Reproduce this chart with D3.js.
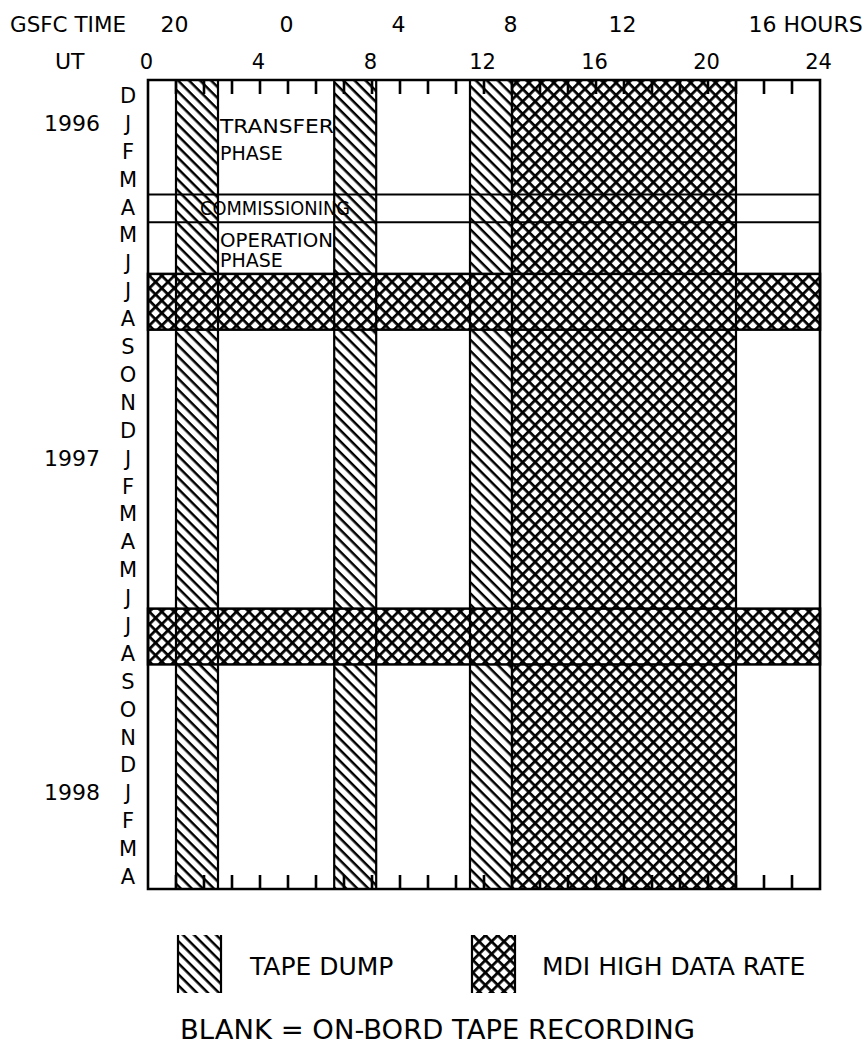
<!DOCTYPE html>
<html>
<head>
<meta charset="utf-8">
<script src="https://cdn.jsdelivr.net/npm/d3@7"></script>
<style>
  body { margin: 0; background: #fff; }
  text { font-family: "DejaVu Sans", sans-serif; fill: #000; }
</style>
</head>
<body>
<svg id="chart" width="864" height="1053"></svg>
<script>
// month rows, Dec 1995 .. Apr 1998
const months = ['D', 'J', 'F', 'M', 'A', 'M', 'J', 'J', 'A', 'S', 'O', 'N',
  'D', 'J', 'F', 'M', 'A', 'M', 'J', 'J', 'A', 'S', 'O', 'N', 'D', 'J', 'F', 'M', 'A'];
const yearLabels = ['1996', '1997', '1998'];
const yearRows = [1, 13, 25];

const utTicks = [0, 4, 8, 12, 16, 20, 24];
const gsfcHours = [20, 0, 4, 8, 12, 16];
const gsfcOffset = 5; // UT = GSFC + 5

// UT hour ranges
const tapeDumps = [[1.0, 2.5], [6.65, 8.15], [11.5, 13.0]];
const highRateHours = [13, 21];
// month-row ranges with high data rate over the whole day
const highRateMonths = [[6.95, 8.95], [18.95, 20.95]];
// phase boundaries (month rows)
const phaseLines = [4.1, 5.1];

const svg = d3.select('#chart');
const x = d3.scaleLinear().domain([0, 24]).range([148, 820]);
const y = d3.scaleLinear().domain([0, months.length]).range([80, 889]);

// patterns
const defs = svg.append('defs');
const hatch = defs.append('pattern')
  .attr('id', 'hatch')
  .attr('patternUnits', 'userSpaceOnUse')
  .attr('width', 7.8).attr('height', 7.8)
  .attr('patternTransform', 'rotate(45)');
hatch.append('rect').attr('width', 7.8).attr('height', 7.8).attr('fill', '#fff');
hatch.append('rect').attr('width', 7.8).attr('height', 2.5).attr('fill', '#000');

const cross = defs.append('pattern')
  .attr('id', 'cross')
  .attr('patternUnits', 'userSpaceOnUse')
  .attr('width', 8.8).attr('height', 8.8)
  .attr('patternTransform', 'rotate(45)');
cross.append('rect').attr('width', 8.8).attr('height', 8.8).attr('fill', '#fff');
cross.append('rect').attr('width', 8.8).attr('height', 2.7).attr('fill', '#000');
cross.append('rect').attr('width', 2.7).attr('height', 8.8).attr('fill', '#000');

const yTop = y(0);
const yBottom = y(months.length);

// tape dump columns
svg.append('g').selectAll('rect')
  .data(tapeDumps)
  .enter()
  .append('rect')
  .attr('x', d => x(d[0]))
  .attr('y', yTop)
  .attr('width', d => x(d[1]) - x(d[0]))
  .attr('height', yBottom - yTop)
  .attr('fill', 'url(#hatch)');

// high data rate column
svg.append('rect')
  .attr('x', x(highRateHours[0]))
  .attr('y', yTop)
  .attr('width', x(highRateHours[1]) - x(highRateHours[0]))
  .attr('height', yBottom - yTop)
  .attr('fill', 'url(#cross)');

// high data rate full-day bands
svg.append('g').selectAll('rect')
  .data(highRateMonths)
  .enter()
  .append('rect')
  .attr('x', x(0))
  .attr('y', d => y(d[0]))
  .attr('width', x(24) - x(0))
  .attr('height', d => y(d[1]) - y(d[0]))
  .attr('fill', 'url(#cross)')
  .attr('stroke', '#000')
  .attr('stroke-width', 2.5);

// column edges
const edges = tapeDumps.flat().concat(highRateHours);
svg.append('g').selectAll('line')
  .data(edges)
  .enter()
  .append('line')
  .attr('x1', d => x(d)).attr('x2', d => x(d))
  .attr('y1', yTop).attr('y2', yBottom)
  .attr('stroke', '#000')
  .attr('stroke-width', 2.2);

// phase boundary lines
svg.append('g').selectAll('line')
  .data(phaseLines)
  .enter()
  .append('line')
  .attr('x1', x(0)).attr('x2', x(24))
  .attr('y1', d => y(d)).attr('y2', d => y(d))
  .attr('stroke', '#000')
  .attr('stroke-width', 2);

// frame with inner hour ticks, drawn as one path
const hourTicks = d3.range(1, 24);
const tickLen = 14;
const framePath = d3.path();
framePath.rect(x(0), yTop, x(24) - x(0), yBottom - yTop);
hourTicks.forEach(h => {
  framePath.moveTo(x(h), yTop);
  framePath.lineTo(x(h), yTop + tickLen);
  framePath.moveTo(x(h), yBottom);
  framePath.lineTo(x(h), yBottom - tickLen);
});
svg.append('path')
  .attr('d', framePath.toString())
  .attr('fill', 'none')
  .attr('stroke', '#000')
  .attr('stroke-width', 2.6);

// UT axis labels
const utAxis = svg.append('g')
  .attr('transform', 'translate(-2,69)')
  .call(d3.axisTop(x).tickValues(utTicks).tickSize(0).tickPadding(0))
  .call(g => g.select('.domain').remove());
utAxis.selectAll('text')
  .attr('dy', 0)
  .style('font-size', '21px')
  .style('font-family', '"DejaVu Sans", sans-serif');
svg.append('text')
  .attr('x', 55).attr('y', 69)
  .style('font-size', '22px')
  .text('UT');

// GSFC time labels
const gsfcAxis = svg.append('g')
  .attr('transform', 'translate(-2,32)')
  .call(d3.axisTop(x)
    .tickValues(gsfcHours.map(h => (h + gsfcOffset) % 24))
    .tickSize(0).tickPadding(0)
    .tickFormat(d => String((d - gsfcOffset + 24) % 24)))
  .call(g => g.select('.domain').remove());
gsfcAxis.selectAll('text')
  .attr('dy', 0)
  .style('font-size', '22px')
  .style('font-family', '"DejaVu Sans", sans-serif');
gsfcAxis.selectAll('text')
  .filter((d, i, n) => i === n.length - 1)
  .attr('text-anchor', 'start')
  .attr('dx', 14)
  .text(d => `${(d - gsfcOffset + 24) % 24} HOURS`);
svg.append('text')
  .attr('x', 10).attr('y', 32)
  .attr('textLength', 116)
  .attr('lengthAdjust', 'spacingAndGlyphs')
  .style('font-size', '22px')
  .text('GSFC TIME');

// month labels
svg.append('g').selectAll('text')
  .data(months)
  .enter()
  .append('text')
  .attr('x', 128)
  .attr('y', (d, i) => y(i + 0.5) + 9)
  .attr('text-anchor', 'middle')
  .style('font-size', '21px')
  .text(d => d);

// year labels
svg.append('g').selectAll('text')
  .data(yearLabels)
  .enter()
  .append('text')
  .attr('x', 100)
  .attr('y', (d, i) => y(yearRows[i] + 0.5) + 9)
  .attr('text-anchor', 'end')
  .style('font-size', '22px')
  .text(d => d);

// phase annotations
const phaseX = x(tapeDumps[0][1]) + 2;
const notes = svg.append('g').style('font-size', '19px');
notes.append('text').attr('x', phaseX).attr('y', 133).attr('textLength', 114).attr('lengthAdjust', 'spacingAndGlyphs').text('TRANSFER');
notes.append('text').attr('x', phaseX).attr('y', 160).text('PHASE');
notes.append('text').attr('x', 200).attr('y', 215).attr('textLength', 150).attr('lengthAdjust', 'spacingAndGlyphs').text('COMMISSIONING');
notes.append('text').attr('x', phaseX).attr('y', 247).attr('textLength', 113).attr('lengthAdjust', 'spacingAndGlyphs').text('OPERATION');
notes.append('text').attr('x', phaseX).attr('y', 267).text('PHASE');

// legend
const legend = svg.append('g');
const legendItems = [
  { fill: 'url(#hatch)', x0: 178, label: 'TAPE DUMP', tx: 250 },
  { fill: 'url(#cross)', x0: 472, label: 'MDI HIGH DATA RATE', tx: 542 }
];
legendItems.forEach(d => {
  legend.append('rect')
    .attr('x', d.x0).attr('y', 935)
    .attr('width', 43).attr('height', 58)
    .attr('fill', d.fill);
  [d.x0, d.x0 + 43].forEach(lx => {
    legend.append('line')
      .attr('x1', lx).attr('x2', lx)
      .attr('y1', 935).attr('y2', 993)
      .attr('stroke', '#000')
      .attr('stroke-width', 2.2);
  });
  legend.append('text')
    .attr('x', d.tx).attr('y', 975)
    .style('font-size', '25px')
    .text(d.label);
});
svg.append('text')
  .attr('x', 180).attr('y', 1039)
  .attr('textLength', 515)
  .attr('lengthAdjust', 'spacingAndGlyphs')
  .style('font-size', '26px')
  .text('BLANK = ON-BORD TAPE RECORDING');
</script>
</body>
</html>
